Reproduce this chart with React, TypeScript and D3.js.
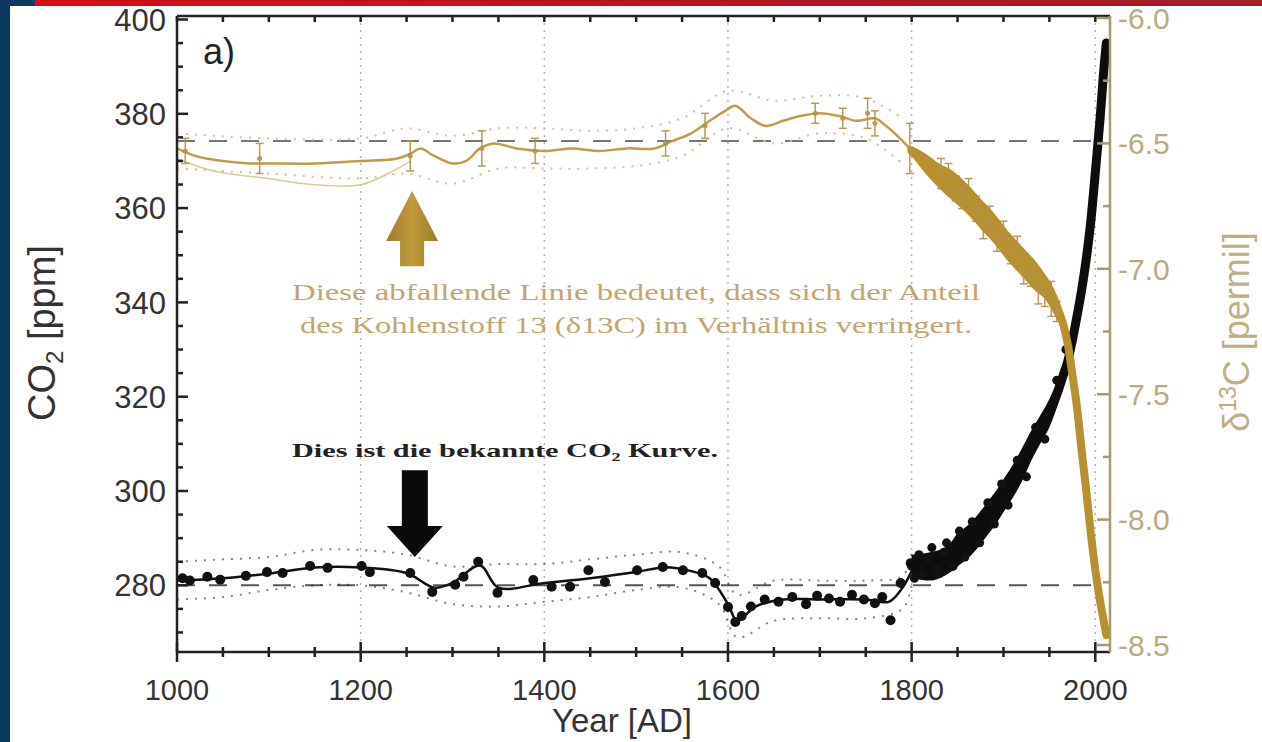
import React from 'react';
import * as d3 from 'd3';

// ---------- data ----------
const co2PreYears = [1006, 1014, 1033, 1047, 1075, 1098, 1115, 1145, 1164, 1201, 1210, 1254, 1278, 1303, 1312, 1328, 1349, 1388, 1408, 1428, 1448, 1466, 1501, 1529, 1551, 1572, 1586, 1600, 1608, 1615, 1625, 1640, 1655, 1670, 1685, 1697, 1710, 1722, 1735, 1748, 1760, 1768, 1777, 1788, 1799];
const co2PreValues = [281.5, 281.0, 281.8, 281.2, 282.0, 282.8, 282.6, 284.1, 283.7, 284.1, 282.8, 282.6, 278.6, 280.1, 281.8, 285.0, 278.4, 281.1, 279.7, 279.7, 283.2, 280.7, 283.2, 283.9, 283.2, 282.6, 280.5, 275.4, 272.2, 273.5, 275.5, 277.0, 276.5, 277.5, 276.0, 277.8, 277.2, 276.5, 278.0, 277.0, 276.2, 277.5, 272.6, 280.5, 284.7];

const co2SplineYears = [1000, 1050, 1100, 1150, 1200, 1250, 1280, 1300, 1330, 1350, 1400, 1450, 1500, 1530, 1560, 1580, 1600, 1610, 1630, 1660, 1700, 1750, 1775, 1790, 1800];
const co2SplineValues = [281, 281.5, 282.5, 283.8, 283.8, 282.6, 279.5, 280.5, 284.2, 279.5, 280.5, 281.5, 282.8, 283.8, 283, 281.5, 276, 272.5, 275.5, 277, 277, 277, 276.5, 279.5, 283];

const co2EnvYears = [1000, 1050, 1100, 1150, 1200, 1250, 1300, 1350, 1400, 1450, 1500, 1550, 1590, 1610, 1650, 1700, 1750, 1790, 1800];
const co2EnvUpper = [285, 285.5, 286, 287.5, 287.5, 286.5, 284, 284.5, 284.5, 285.5, 286.5, 287, 284, 278, 281, 281, 281, 282, 287];
const co2EnvLower = [277, 277.5, 279, 280, 280, 278.5, 276, 275.5, 276.5, 277.5, 279, 279.5, 276, 269, 272.5, 273, 273, 275, 280];

const co2ModYears = [1800, 1820, 1840, 1850, 1860, 1870, 1880, 1890, 1900, 1910, 1920, 1930, 1940, 1950, 1960, 1965, 1970, 1975, 1980, 1985, 1990, 1995, 2000, 2005, 2010, 2012];
const co2ModValues = [284, 284, 285.5, 287.5, 289, 291, 293.5, 296, 299, 302, 305.5, 309.5, 313, 316.5, 321.5, 324.5, 327.5, 332, 337, 342.5, 349, 357, 367.5, 378.5, 391, 395];
const co2ModSpread = [2.5, 3, 3, 3.5, 3.5, 3.5, 3.5, 3.5, 3.5, 3.5, 3.5, 3.2, 3, 3, 2.6, 2.4, 2.2, 2, 1.8, 1.6, 1.5, 1.5, 1.5, 1.5, 1.5, 1.5];

const co2ScatterYears = [1803, 1808, 1812, 1818, 1822, 1827, 1830, 1835, 1838, 1845, 1852, 1858, 1866, 1874, 1883, 1890, 1898, 1905, 1915, 1925, 1935, 1945, 1958, 1968];
const co2ScatterValues = [281.5, 286.5, 282.5, 285.5, 288, 283.5, 282.5, 287, 289, 284, 291.5, 286, 293.5, 289, 297.5, 293, 301.5, 297, 306.5, 303, 313.5, 311, 323.5, 330];

const d13PreYears = [1000, 1020, 1050, 1080, 1100, 1150, 1200, 1240, 1255, 1265, 1280, 1300, 1315, 1330, 1345, 1370, 1400, 1430, 1460, 1490, 1520, 1540, 1560, 1580, 1597, 1608, 1625, 1641, 1660, 1680, 1700, 1720, 1740, 1760, 1772, 1790, 1800];
const d13PreValues = [-6.52, -6.55, -6.57, -6.58, -6.58, -6.58, -6.57, -6.56, -6.54, -6.52, -6.55, -6.58, -6.57, -6.52, -6.50, -6.52, -6.53, -6.52, -6.53, -6.52, -6.52, -6.49, -6.46, -6.41, -6.37, -6.35, -6.40, -6.43, -6.41, -6.39, -6.38, -6.39, -6.41, -6.40, -6.43, -6.49, -6.53];

const d13AltYears = [1000, 1040, 1100, 1150, 1200, 1230, 1255];
const d13AltValues = [-6.56, -6.61, -6.64, -6.665, -6.665, -6.62, -6.57];

const d13EnvYears = [1000, 1100, 1200, 1250, 1300, 1350, 1400, 1450, 1500, 1550, 1600, 1650, 1700, 1750, 1790];
const d13EnvUpper = [-6.46, -6.48, -6.48, -6.44, -6.47, -6.44, -6.44, -6.45, -6.44, -6.40, -6.29, -6.33, -6.31, -6.32, -6.40];
const d13EnvLower = [-6.60, -6.62, -6.64, -6.62, -6.66, -6.60, -6.60, -6.60, -6.59, -6.55, -6.44, -6.50, -6.46, -6.48, -6.58];

const d13ModYears = [1800, 1815, 1830, 1845, 1860, 1875, 1890, 1905, 1920, 1935, 1945, 1955, 1965, 1970, 1975, 1980, 1985, 1990, 1995, 2000, 2005, 2010, 2012];
const d13ModValues = [-6.53, -6.58, -6.63, -6.67, -6.72, -6.78, -6.84, -6.91, -6.97, -7.03, -7.07, -7.13, -7.22, -7.30, -7.42, -7.55, -7.72, -7.88, -8.05, -8.20, -8.32, -8.42, -8.46];
const d13ModSpread = [0.02, 0.04, 0.05, 0.06, 0.06, 0.06, 0.06, 0.06, 0.06, 0.06, 0.05, 0.05, 0.04, 0.03, 0.02, 0.02, 0.02, 0.02, 0.02, 0.02, 0.02, 0.02, 0.02];

const d13ErrYears = [1009, 1090, 1254, 1332, 1390, 1532, 1575, 1695, 1725, 1752, 1760, 1798, 1832, 1840, 1848, 1855, 1862, 1870, 1878, 1885, 1893, 1900, 1908, 1915, 1922, 1930, 1938, 1945, 1952, 1958];
const d13ErrValues = [-6.53, -6.56, -6.55, -6.52, -6.53, -6.50, -6.43, -6.38, -6.40, -6.38, -6.42, -6.52, -6.62, -6.63, -6.68, -6.72, -6.70, -6.76, -6.82, -6.80, -6.88, -6.87, -6.93, -6.92, -7.00, -7.02, -7.08, -7.10, -7.12, -7.17];
const d13ErrSizes = [0.05, 0.06, 0.06, 0.07, 0.05, 0.05, 0.05, 0.04, 0.04, 0.06, 0.05, 0.10, 0.06, 0.05, 0.05, 0.04, 0.06, 0.05, 0.06, 0.05, 0.05, 0.06, 0.05, 0.05, 0.06, 0.05, 0.06, 0.05, 0.07, 0.04];

const co2Ref = 280;
const d13Ref = -6.49;

const yearLabels = [1000, 1200, 1400, 1600, 1800, 2000];
const co2Labels = [280, 300, 320, 340, 360, 380, 400];
const d13Labels = [-6.0, -6.5, -7.0, -7.5, -8.0, -8.5];

const goldLine1 = 'Diese abfallende Linie bedeutet, dass sich der Anteil';
const goldLine2 = 'des Kohlenstoff 13 (δ13C) im Verhältnis verringert.';
const blackNote = 'Dies ist die bekannte CO₂ Kurve.';

// ---------- component ----------
const SANS = "'Liberation Sans', Arial, Helvetica, sans-serif";
const SERIF = "'Liberation Serif', 'Times New Roman', serif";
const GOLD = '#b8912f';
const KHAKI = '#b9ab7e';

const zip3 = (a: number[], b: number[], c?: number[]) => a.map((v, i) => [v, b[i], c ? c[i] : 0]);

export default function App() {
  const L = 177, R = 1110, T = 16, B = 652;
  const x = d3.scaleLinear().domain([1000, 2016]).range([L, R]);
  const yL = d3.scaleLinear().domain([280, 400]).range([585.3, 19.5]);
  const yR = d3.scaleLinear().domain([-8.5, -6.0]).range([645, 18]);

  const lineL = d3.line<number[]>().x(d => x(d[0])).y(d => yL(d[1]));
  const lineR = d3.line<number[]>().x(d => x(d[0])).y(d => yR(d[1]));

  const co2Spline = lineL.curve(d3.curveCatmullRom)(zip3(co2SplineYears, co2SplineValues)) || '';
  const co2Up = lineL.curve(d3.curveCatmullRom)(zip3(co2EnvYears, co2EnvUpper)) || '';
  const co2Lo = lineL.curve(d3.curveCatmullRom)(zip3(co2EnvYears, co2EnvLower)) || '';
  const co2Band = d3.area<number[]>()
    .x(d => x(d[0])).y0(d => yL(d[1] - d[2])).y1(d => yL(d[1] + d[2]))
    .curve(d3.curveMonotoneX)(zip3(co2ModYears, co2ModValues, co2ModSpread)) || '';
  const co2ModLine = lineL.curve(d3.curveMonotoneX)(zip3(co2ModYears, co2ModValues)) || '';

  const d13Pre = lineR.curve(d3.curveCatmullRom)(zip3(d13PreYears, d13PreValues)) || '';
  const d13Alt = lineR.curve(d3.curveCatmullRom)(zip3(d13AltYears, d13AltValues)) || '';
  const d13Up = lineR.curve(d3.curveCatmullRom)(zip3(d13EnvYears, d13EnvUpper)) || '';
  const d13Lo = lineR.curve(d3.curveCatmullRom)(zip3(d13EnvYears, d13EnvLower)) || '';
  const d13Band = d3.area<number[]>()
    .x(d => x(d[0])).y0(d => yR(d[1] - d[2])).y1(d => yR(d[1] + d[2]))
    .curve(d3.curveMonotoneX)(zip3(d13ModYears, d13ModValues, d13ModSpread)) || '';
  const d13ModLine = lineR.curve(d3.curveMonotoneX)(zip3(d13ModYears, d13ModValues)) || '';

  const xMinor = d3.range(1000, 2001, 50);
  const yMinor = d3.range(270, 401, 5);
  const rMinor = d3.range(-8.5, -5.99, 0.25);

  // arrows anchored to data coordinates
  const bx = x(1259), bTip = yL(286), bTop = yL(304.4);
  const bHead = bTip - 31;
  const blackArrow = [
    [bx - 13, bTop], [bx + 13, bTop], [bx + 13, bHead], [bx + 28, bHead],
    [bx, bTip], [bx - 28, bHead], [bx - 13, bHead],
  ].map(p => p.join(',')).join(' ');
  const gx = x(1256), gTip = yR(-6.69), gBase = yR(-6.99);
  const gHead = gTip + 50;
  const goldArrow = [
    [gx - 12, gBase], [gx + 12, gBase], [gx + 12, gHead], [gx + 26, gHead],
    [gx, gTip], [gx - 26, gHead], [gx - 12, gHead],
  ].map(p => p.join(',')).join(' ');

  return (
    <svg width={1262} height={742} style={{ position: 'absolute', left: 0, top: 0, background: '#fff' }}>
      <defs>
        <linearGradient id="redbar" x1="0" x2="1" y1="0" y2="0">
          <stop offset="0" stopColor="#d20f14" />
          <stop offset="1" stopColor="#a31e28" />
        </linearGradient>
        <linearGradient id="goldArrowGrad" x1="0" x2="1" y1="0" y2="0">
          <stop offset="0" stopColor="#9c7a28" />
          <stop offset="0.5" stopColor="#c19a3c" />
          <stop offset="1" stopColor="#9c7a28" />
        </linearGradient>
      </defs>
      <rect x={0} y={0} width={1262} height={742} fill="#fff" />
      <rect x={35} y={0} width={1227} height={6} fill="url(#redbar)" />
      <rect x={0} y={0} width={35} height={6} fill="#0b3a5e" />
      <rect x={0} y={0} width={10} height={742} fill="#0b3a5e" />

      {/* vertical dotted grid */}
      {[1200, 1400, 1600, 1800, 2000].map(v => (
        <line key={'g' + v} x1={x(v)} x2={x(v)} y1={T} y2={B} stroke="#b0b0b8" strokeWidth={1.5} strokeDasharray="2,5" />
      ))}

      {/* reference dashed lines */}
      <line x1={L} x2={R - 8} y1={yL(co2Ref)} y2={yL(co2Ref)} stroke="#555" strokeWidth={2} strokeDasharray="18,14" />
      <line x1={L} x2={R - 8} y1={yR(d13Ref)} y2={yR(d13Ref)} stroke="#555" strokeWidth={2} strokeDasharray="18,14" opacity={0.8} />

      {/* CO2 pre-industrial */}
      <path d={co2Up} fill="none" stroke="#222" strokeWidth={2} strokeDasharray="2,7" opacity={0.55} />
      <path d={co2Lo} fill="none" stroke="#222" strokeWidth={2} strokeDasharray="2,7" opacity={0.55} />
      <path d={co2Spline} fill="none" stroke="#111" strokeWidth={2.5} />
      {co2PreYears.map((yr, i) => (
        <circle key={'c' + i} cx={x(yr)} cy={yL(co2PreValues[i])} r={5} fill="#111" />
      ))}

      {/* CO2 modern */}
      <path d={co2Band} fill="#0d0d0d" />
      <path d={co2ModLine} fill="none" stroke="#0d0d0d" strokeWidth={9} strokeLinecap="round" />
      {co2ScatterYears.map((yr, i) => (
        <circle key={'s' + i} cx={x(yr)} cy={yL(co2ScatterValues[i])} r={4.5} fill="#111" />
      ))}

      {/* d13C */}
      <path d={d13Up} fill="none" stroke="#d6c08a" strokeWidth={2} strokeDasharray="2,7" />
      <path d={d13Lo} fill="none" stroke="#d6c08a" strokeWidth={2} strokeDasharray="2,7" />
      <path d={d13Alt} fill="none" stroke="#ddc995" strokeWidth={1.5} />
      <path d={d13Pre} fill="none" stroke="#bf9d4c" strokeWidth={2.5} />
      <path d={d13Band} fill={GOLD} />
      <path d={d13ModLine} fill="none" stroke={GOLD} strokeWidth={8} strokeLinecap="round" />
      {d13ErrYears.map((yr, i) => {
        const cx = x(yr);
        const y1 = yR(d13ErrValues[i] + d13ErrSizes[i]);
        const y2 = yR(d13ErrValues[i] - d13ErrSizes[i]);
        return (
          <g key={'e' + i} stroke="#b39047" strokeWidth={1.5} opacity={0.9}>
            <line x1={cx} x2={cx} y1={y1} y2={y2} />
            <line x1={cx - 4} x2={cx + 4} y1={y1} y2={y1} />
            <line x1={cx - 4} x2={cx + 4} y1={y2} y2={y2} />
            <circle cx={cx} cy={yR(d13ErrValues[i])} r={2.5} fill="#b39047" stroke="none" />
          </g>
        );
      })}

      {/* frame */}
      <line x1={L} x2={R} y1={T} y2={T} stroke="#222" strokeWidth={2.5} />
      <line x1={L} x2={R} y1={B} y2={B} stroke="#222" strokeWidth={2.5} />
      <line x1={L} x2={L} y1={T} y2={B} stroke="#222" strokeWidth={2.5} />
      <line x1={R} x2={R} y1={T} y2={B} stroke="#a8986a" strokeWidth={2.5} />

      {/* x ticks */}
      {xMinor.map(v => {
        const major = v % 200 === 0;
        return (
          <g key={'xt' + v} stroke="#222" strokeWidth={2.5}>
            <line x1={x(v)} x2={x(v)} y1={B - (major ? 10 : 5)} y2={B + (major ? 10 : 5)} />
            <line x1={x(v)} x2={x(v)} y1={T} y2={T + 6} />
          </g>
        );
      })}
      {yearLabels.map(v => (
        <text key={'xl' + v} x={x(v)} y={700} textAnchor="middle" fontFamily={SANS} fontSize={29} fill="#333">{v}</text>
      ))}

      {/* left ticks */}
      {yMinor.map(v => (
        <line key={'yt' + v} x1={L} x2={L + (v % 20 === 0 ? 11 : 6)} y1={yL(v)} y2={yL(v)} stroke="#222" strokeWidth={2.5} />
      ))}
      {co2Labels.map(v => (
        <text key={'yl' + v} x={166} y={yL(v)} dy="0.36em" textAnchor="end" fontFamily={SANS} fontSize={31} fill="#333">{v}</text>
      ))}

      {/* right ticks */}
      {rMinor.map((v, i) => (
        <line key={'rt' + i} x1={R} x2={R - (i % 2 === 0 ? 13 : 7)} y1={yR(v)} y2={yR(v)} stroke="#a8986a" strokeWidth={2.5} />
      ))}
      {d13Labels.map(v => (
        <text key={'rl' + v} x={1118} y={yR(v)} dy="0.36em" textAnchor="start" fontFamily={SANS} fontSize={30} fill={KHAKI}>{v.toFixed(1)}</text>
      ))}

      {/* titles */}
      <text x={622} y={732} textAnchor="middle" fontFamily={SANS} fontSize={33} fill="#333">Year [AD]</text>
      <text transform="translate(55,333) rotate(-90)" textAnchor="middle" fontFamily={SANS} fontSize={38} fill="#333">
        CO<tspan fontSize={24} dy={8}>2</tspan><tspan dy={-8}> [ppm]</tspan>
      </text>
      <text transform="translate(1249,332) rotate(-90)" textAnchor="middle" fontFamily={SANS} fontSize={36} fill="#c0ad80">
        δ<tspan fontSize={23} dy={-13}>13</tspan><tspan dy={13}>C  [permil]</tspan>
      </text>
      <text x={203} y={64} fontFamily={SANS} fontSize={36} fill="#222">a)</text>

      {/* annotations */}
      <polygon points={goldArrow} fill="url(#goldArrowGrad)" />
      <polygon points={blackArrow} fill="#0a0a0a" />
      <text x={636} y={300} textAnchor="middle" fontFamily={SERIF} fontSize={23} fill="#c4a572" textLength={688} lengthAdjust="spacingAndGlyphs">{goldLine1}</text>
      <text x={636} y={333} textAnchor="middle" fontFamily={SERIF} fontSize={23} fill="#c4a572" textLength={672} lengthAdjust="spacingAndGlyphs">{goldLine2}</text>
      <text x={505} y={457} textAnchor="middle" fontFamily={SERIF} fontWeight="bold" fontSize={19} fill="#222" textLength={426} lengthAdjust="spacingAndGlyphs">{blackNote}</text>
    </svg>
  );
}
